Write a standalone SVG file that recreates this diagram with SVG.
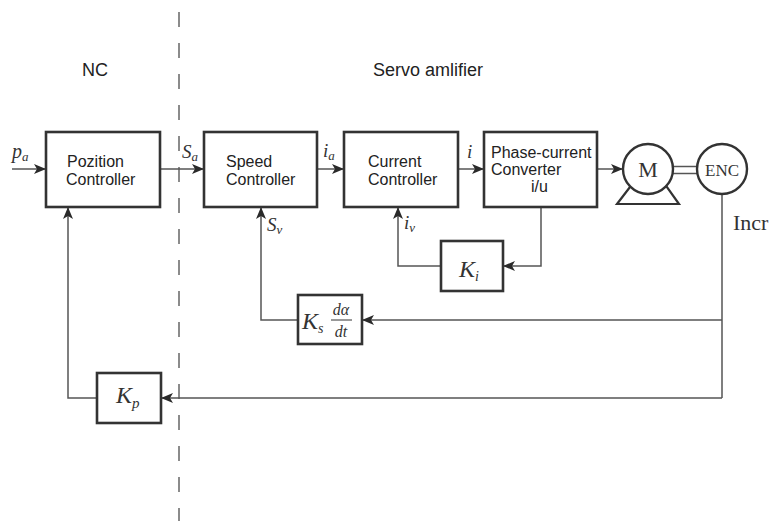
<svg xmlns="http://www.w3.org/2000/svg" width="771" height="521" viewBox="0 0 771 521">
  <defs>
    <marker id="arr" viewBox="0 0 12 10" refX="12" refY="5" markerWidth="12" markerHeight="10" markerUnits="userSpaceOnUse" orient="auto">
      <path d="M0,0 L12,5 L0,10 L3,5 Z" fill="#2a2a2a"/>
    </marker>
    <style>
      .box { fill: #fff; stroke: #333; stroke-width: 2.6; }
      .wire { fill: none; stroke: #555; stroke-width: 1.5; }
      .lbl { font-family: "Liberation Sans", Arial, sans-serif; font-size: 16px; fill: #222; }
      .head { font-family: "Liberation Sans", Arial, sans-serif; font-size: 18px; fill: #222; }
      .math { font-family: "Liberation Serif", "Times New Roman", serif; font-style: italic; fill: #333; }
      .rm { font-family: "Liberation Serif", "Times New Roman", serif; fill: #333; }
    </style>
  </defs>
  <rect width="771" height="521" fill="#fff"/>

  <!-- section divider between NC and servo amplifier -->
  <line x1="179" y1="12" x2="179" y2="521" stroke="#666" stroke-width="1.5" stroke-dasharray="15 16"/>
  <text class="head" x="82" y="76">NC</text>
  <text class="head" x="373" y="76" font-size="19">Servo amlifier</text>

  <!-- connectors -->
  <g id="connectors">
    <line class="wire" x1="12" y1="169" x2="46" y2="169" marker-end="url(#arr)"/>
    <line class="wire" x1="160" y1="169" x2="204" y2="169" marker-end="url(#arr)"/>
    <line class="wire" x1="317" y1="169" x2="344" y2="169" marker-end="url(#arr)"/>
    <line class="wire" x1="458" y1="169" x2="484" y2="169" marker-end="url(#arr)"/>
    <line class="wire" x1="597" y1="169" x2="623" y2="169" marker-end="url(#arr)"/>
    <!-- current feedback -->
    <polyline class="wire" points="541,207 541,266 503,266" marker-end="url(#arr)"/>
    <polyline class="wire" points="441,266 398,266 398,207" marker-end="url(#arr)"/>
    <!-- encoder line and speed / position feedback -->
    <line class="wire" x1="722" y1="195" x2="722" y2="398"/>
    <line class="wire" x1="722" y1="320" x2="362" y2="320" marker-end="url(#arr)"/>
    <polyline class="wire" points="298,320 261,320 261,207" marker-end="url(#arr)"/>
    <line class="wire" x1="722" y1="398" x2="161" y2="398" marker-end="url(#arr)"/>
    <polyline class="wire" points="97,398 68,398 68,207" marker-end="url(#arr)"/>
    <!-- motor shaft to encoder -->
    <line class="wire" x1="673" y1="166.5" x2="697" y2="166.5"/>
    <line class="wire" x1="673" y1="173.5" x2="697" y2="173.5"/>
  </g>

  <!-- signal labels -->
  <text class="math" x="12" y="158" font-size="20">p<tspan font-size="13" dy="3">a</tspan></text>
  <text class="math" x="182" y="158" font-size="19">S<tspan font-size="13" dy="3">a</tspan></text>
  <text class="math" x="323" y="157" font-size="19">i<tspan font-size="13" dy="3">a</tspan></text>
  <text class="math" x="467" y="158" font-size="19">i</text>
  <text class="math" x="267" y="231" font-size="19">S<tspan font-size="13" dy="3">v</tspan></text>
  <text class="math" x="404" y="229" font-size="19">i<tspan font-size="13" dy="3">v</tspan></text>
  <text class="rm" x="733" y="230" font-size="22">Incr</text>

  <g id="pozition-controller">
    <rect class="box" x="46" y="132" width="114" height="75"/>
    <text class="lbl" x="67" y="167">Pozition</text>
    <text class="lbl" x="66" y="185">Controller</text>
  </g>

  <g id="speed-controller">
    <rect class="box" x="204" y="132" width="113" height="75"/>
    <text class="lbl" x="226" y="167">Speed</text>
    <text class="lbl" x="226" y="185">Controller</text>
  </g>

  <g id="current-controller">
    <rect class="box" x="344" y="132" width="114" height="75"/>
    <text class="lbl" x="368" y="167">Current</text>
    <text class="lbl" x="368" y="185">Controller</text>
  </g>

  <g id="phase-current-converter">
    <rect class="box" x="484" y="132" width="113" height="75"/>
    <text class="lbl" x="491" y="158">Phase-current</text>
    <text class="lbl" x="491" y="175">Converter</text>
    <text class="lbl" x="531" y="192">i/u</text>
  </g>

  <g id="motor">
    <polygon points="630,187 617,204 679,204 667,187" fill="#fff" stroke="#333" stroke-width="2.2" stroke-linejoin="miter"/>
    <circle cx="648" cy="169" r="25" fill="#fff" stroke="#333" stroke-width="2.4"/>
    <text class="rm" x="648" y="177" font-size="22" text-anchor="middle">M</text>
  </g>

  <g id="encoder">
    <circle cx="722" cy="169" r="25" fill="#fff" stroke="#333" stroke-width="2.4"/>
    <text class="rm" x="722" y="176" font-size="17" text-anchor="middle">ENC</text>
  </g>

  <g id="ki">
    <rect class="box" x="441" y="241" width="62" height="50"/>
    <text class="math" x="459" y="277" font-size="24">K<tspan font-size="14" dy="4">i</tspan></text>
  </g>

  <g id="ks">
    <rect class="box" x="298" y="295" width="64" height="49"/>
    <text class="math" x="302" y="329" font-size="24">K<tspan font-size="14" dy="4">s</tspan></text>
    <text class="math" x="341" y="315" font-size="16" text-anchor="middle">dα</text>
    <line x1="331" y1="320" x2="352" y2="320" stroke="#333" stroke-width="1"/>
    <text class="math" x="341" y="337" font-size="16" text-anchor="middle">dt</text>
  </g>

  <g id="kp">
    <rect class="box" x="97" y="373" width="64" height="50"/>
    <text class="math" x="116" y="403" font-size="24">K<tspan font-size="15" dy="5">p</tspan></text>
  </g>
</svg>
